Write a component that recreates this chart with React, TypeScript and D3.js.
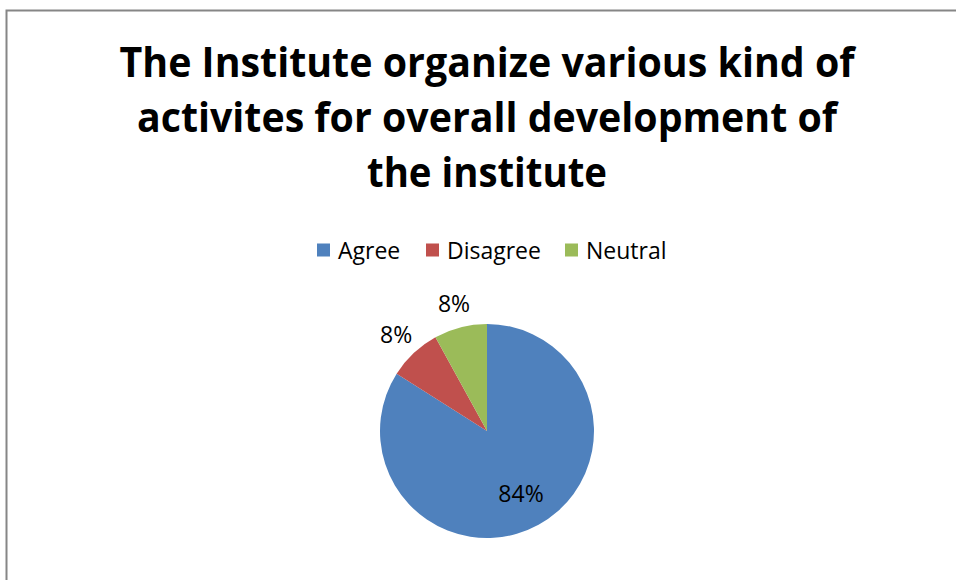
import React from "react";
import * as d3 from "d3";

const titleLines = [
  "The Institute organize various kind of",
  "activites for overall development of",
  "the institute",
];
const categories = ["Agree", "Disagree", "Neutral"];
const values = [84, 8, 8];
const colors = ["#4F81BD", "#C0504D", "#9BBB59"];

const W = 956;
const H = 580;
const FONT = "'Open Sans', 'DejaVu Sans', sans-serif";

export default function App() {
  const cx = 487;
  const cy = 431;
  const r = 107;
  const pie = d3.pie<number>().sort(null).value((d) => d)(values);
  const arc = d3.arc<d3.PieArcDatum<number>>().innerRadius(0).outerRadius(r);
  const inLabel = d3.arc<d3.PieArcDatum<number>>().innerRadius(r * 0.66).outerRadius(r * 0.66);
  const outLabel = d3.arc<d3.PieArcDatum<number>>().innerRadius(r * 1.24).outerRadius(r * 1.24);
  const total = d3.sum(values);
  const fmt = (v: number) => `${Math.round((v / total) * 100)}%`;

  const titleY = [77, 132, 187];
  const titleW = [735, 700, 240];

  const legendX = [317, 426, 565];
  const legendY = 250;

  return (
    <div style={{ position: "fixed", left: 0, top: 0, width: W, height: H, background: "#fff" }}>
      <svg width={W} height={H} style={{ display: "block" }}>
        <rect x={6.5} y={10.5} width={W + 20} height={H + 20} fill="#fff" stroke="#868686" strokeWidth={2} />
        {titleLines.map((t, i) => (
          <text
            key={i}
            x={W / 2 + 9}
            y={titleY[i]}
            textAnchor="middle"
            fontFamily={FONT}
            fontWeight={700}
            fontSize={42}
            textLength={titleW[i]}
            lengthAdjust="spacingAndGlyphs"
            fill="#000"
          >
            {t}
          </text>
        ))}
        {categories.map((c, i) => (
          <g key={c}>
            <rect x={legendX[i]} y={legendY - 6.5} width={13} height={13} fill={colors[i]} />
            <text
              x={legendX[i] + 21}
              y={legendY}
              dominantBaseline="central"
              fontFamily={FONT}
              fontSize={23}
              fill="#000"
            >
              {c}
            </text>
          </g>
        ))}
        <g transform={`translate(${cx},${cy})`}>
          {pie.map((p, i) => (
            <path key={i} d={arc(p) || ""} fill={colors[i]} />
          ))}
          {pie.map((p, i) => {
            const big = p.data / total > 0.2;
            const [lx, ly] = (big ? inLabel : outLabel).centroid(p);
            return (
              <text
                key={"l" + i}
                x={lx}
                y={ly}
                textAnchor="middle"
                dominantBaseline="central"
                fontFamily={FONT}
                fontSize={23}
                fill="#000"
              >
                {fmt(p.data)}
              </text>
            );
          })}
        </g>
      </svg>
    </div>
  );
}
